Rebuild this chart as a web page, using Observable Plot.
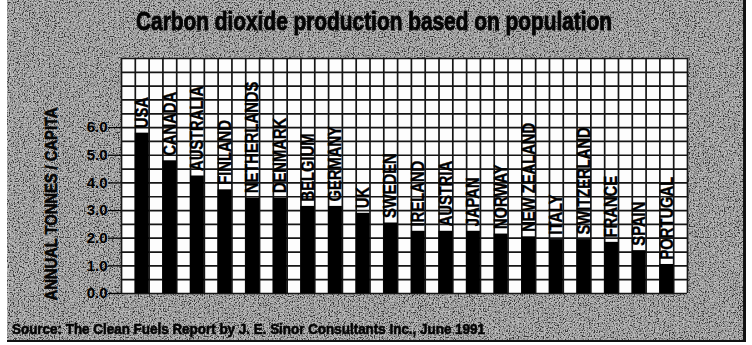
<!DOCTYPE html>
<html>
<head>
<meta charset="utf-8">
<script src="https://cdn.jsdelivr.net/npm/d3@7"></script>
<script src="https://cdn.jsdelivr.net/npm/@observablehq/plot@0.6"></script>
<style>
  html, body { margin: 0; padding: 0; background: #fff; }
  #wrap { position: relative; width: 752px; height: 345px; overflow: hidden; }
  #panel { position: absolute; left: 7px; top: 0; width: 736px; height: 340px;
           background: #7a7a7a; border-right: 3px solid #111; border-bottom: 2px solid #111; }
  #grain { position: absolute; left: 0; top: 0; }
  #chart { position: absolute; left: 0; top: 0; }
  .label { position: absolute; font-family: "Liberation Sans", Arial, sans-serif; font-weight: bold;
           color: #050505; white-space: nowrap; line-height: 1; transform-origin: 50% 50%;
           -webkit-text-stroke: 0.6px #050505; }
  #title { top: 9px; font-size: 25px; -webkit-text-stroke: 0.9px #050505; }
  #ylabel { font-size: 16px; }
  #source { top: 321px; font-size: 15px; }
</style>
</head>
<body>
<div id="wrap">
  <div id="panel">
    <svg id="grain" width="736" height="340">
      <filter id="noise" x="0" y="0" width="100%" height="100%">
        <feTurbulence type="fractalNoise" baseFrequency="0.8" numOctaves="2" seed="7"/>
        <feColorMatrix type="saturate" values="0"/>
        <feComponentTransfer>
          <feFuncR type="linear" slope="4" intercept="-1.5"/>
          <feFuncG type="linear" slope="4" intercept="-1.5"/>
          <feFuncB type="linear" slope="4" intercept="-1.5"/>
          <feFuncA type="table" tableValues="0.55 0.55"/>
        </feComponentTransfer>
      </filter>
      <rect width="736" height="340" filter="url(#noise)"/>
    </svg>
  </div>
  <div id="chart"></div>
  <div id="title" class="label">Carbon dioxide production based on population</div>
  <div id="ylabel" class="label">ANNUAL TONNES / CAPITA</div>
  <div id="source" class="label">Source: The Clean Fuels Report by J. E. Sinor Consultants Inc., June 1991</div>
</div>
<script>
// Annual CO2 output per head of population, tonnes
const countries = ["USA", "CANADA", "AUSTRALIA", "FINLAND", "NETHERLANDS", "DENMARK", "BELGIUM",
  "GERMANY", "UK", "SWEDEN", "IRELAND", "AUSTRIA", "JAPAN", "NORWAY", "NEW ZEALAND", "ITALY",
  "SWITZERLAND", "FRANCE", "SPAIN", "PORTUGAL"];
const tonnesPerCapita = [5.8, 4.8, 4.25, 3.75, 3.45, 3.45, 3.15, 3.15, 2.9, 2.55, 2.25, 2.25, 2.25,
  2.15, 2.05, 1.95, 1.95, 1.85, 1.55, 1.05];
const yTicks = [0, 1, 2, 3, 4, 5, 6];

// each country takes two grid cells: a black bar cell followed by an empty one
const rows = countries.map((name, i) => ({name, value: tonnesPerCapita[i], slot: i}));
const cells = 2 * countries.length + 1;
const yMax = 8.5;
const narrowScale = 0.82; // squeeze a regular bold face into a narrow one

const chart = Plot.plot({
  width: 752,
  height: 345,
  marginLeft: 121,
  marginRight: 65,
  marginTop: 58,
  marginBottom: 52,
  style: {background: "transparent", color: "#000", fontFamily: '"Liberation Sans", Arial, sans-serif', fontWeight: "bold", fontSize: "15px"},
  x: {domain: [0, cells], axis: null},
  y: {domain: [0, yMax], axis: null},
  marks: [
    Plot.frame({fill: "#fdfdfd", stroke: null}),
    Plot.ruleX(d3.range(0, cells + 1), {stroke: "#151515", strokeWidth: 1.7}),
    Plot.ruleY(d3.range(0, yMax * 2 + 1).map(k => k / 2), {stroke: "#151515", strokeWidth: 1.7}),
    Plot.rectY(rows, {x1: d => 2 * d.slot + 1, x2: d => 2 * d.slot + 2, y: "value", fill: "#000"}),
    Plot.text(rows, {
      x: d => 2 * d.slot + 1.5, y: "value", text: "name",
      rotate: -90, textAnchor: "start", dy: -5,
      fontSize: 18, fontWeight: "bold", fill: "#000", stroke: "#000", strokeWidth: 0.4,
      className: "country-label"
    }),
    Plot.axisY({
      ticks: yTicks, tickFormat: d3.format(".1f"), tickSize: 13, tickPadding: 1,
      label: null, stroke: "#000", strokeWidth: 1.3, fill: "#000"
    })
  ]
});
document.getElementById("chart").append(chart);

// narrow the country names along their reading direction
d3.select(chart).selectAll(".country-label text").attr("transform", function() {
  return this.getAttribute("transform") + ` scale(${narrowScale},1)`;
});

// fit the page texts to their spans
function fitBox(el, left, width) {
  const w = el.getBoundingClientRect().width;
  el.style.transformOrigin = "0 50%";
  el.style.left = left + "px";
  el.style.transform = `scaleX(${width / w})`;
}
fitBox(document.getElementById("title"), 136, 476);
fitBox(document.getElementById("source"), 12, 473);

const yl = document.getElementById("ylabel");
const r = yl.getBoundingClientRect();
const cx = 52, cy = 204, len = 193;
yl.style.left = (cx - r.width / 2) + "px";
yl.style.top = (cy - r.height / 2) + "px";
yl.style.transform = `rotate(-90deg) scaleX(${len / r.width})`;
</script>
</body>
</html>
